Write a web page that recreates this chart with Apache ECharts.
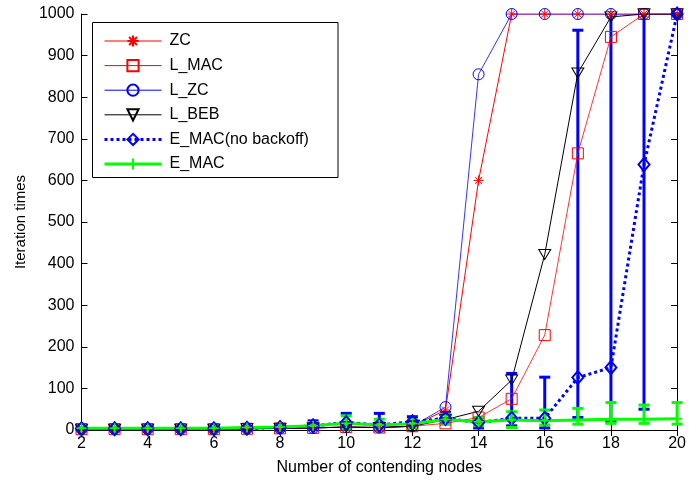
<!DOCTYPE html>
<html>
<head>
<meta charset="utf-8">
<script src="https://cdn.jsdelivr.net/npm/echarts@6/dist/echarts.min.js"></script>
<style>
html,body{margin:0;padding:0;background:#fff;}
#chart{width:689px;height:482px;}
</style>
</head>
<body>
<div id="chart"></div>
<script>
// ---- data ----
var nodes = [2,3,4,5,6,7,8,9,10,11,12,13,14,15,16,17,18,19,20];
var zc      = [2,2,2,2,2,3,4,5,7,6,9,48,600,1000,1000,1000,1000,1000,1000];
var lMac    = [2,2,2,2,2,3,4,5,7,6,9,16,30,75,228,665,945,1000,1000];
var lZc     = [2,2,2,2,2,3,4,5,7,6,9,55,855,1000,1000,1000,1000,1000,1000];
var lBeb    = [2,2,2,2,2,3,4,5,7,6,9,25,45,120,422,858,993,1000,1000];
var eMacNb  = [3,3,3,3,3,4,6,10,18,12,20,28,18,28,28,126,150,638,1000];
var eMacNbLo= [1,1,1,1,1,2,3,2,3,0,8,15,5,10,5,30,20,50,1000];
var eMacNbHi= [5,5,5,5,5,6,9,22,40,40,32,42,30,136,127,961,1050,1050,1000];
var eMac    = [4,4,4,4,4,6,7,10,16,12,15,25,20,24,22,24,26,26,27];
var eMacLo  = [2,2,2,2,2,4,5,4,2,2,6,14,10,6,12,14,16,16,14];
var eMacHi  = [6,6,6,6,6,8,9,18,34,26,25,38,30,44,48,52,66,60,66];
var xTicks = {min:2, max:20, interval:2};
var yTicks = {min:0, max:1000, interval:100};
var seriesNames = ['ZC','L_MAC','L_ZC','L_BEB','E_MAC(no backoff)','E_MAC'];

function pairs(ys){ return nodes.map(function(x,i){ return [x, ys[i]]; }); }
function errData(lo, hi){ return nodes.map(function(x,i){ return [x, lo[i], hi[i]]; }); }

var FONT = '"Liberation Sans", Arial, sans-serif';
var yMaxVal = yTicks.max;

function errRender(color, lw, capW){
  return function(params, api){
    var x = api.value(0), lo = api.value(1), hi = api.value(2);
    var top = Math.min(hi, yMaxVal), bot = Math.max(lo, yTicks.min);
    var pTop = api.coord([x, top]);
    var pBot = api.coord([x, bot]);
    var children = [{
      type:'line', shape:{x1:pTop[0], y1:pTop[1], x2:pBot[0], y2:pBot[1]},
      style:{stroke:color, lineWidth:lw}
    }];
    if (hi <= yMaxVal) children.push({type:'line', shape:{x1:pTop[0]-capW/2, y1:pTop[1], x2:pTop[0]+capW/2, y2:pTop[1]}, style:{stroke:color, lineWidth:lw}});
    if (lo >= yTicks.min) children.push({type:'line', shape:{x1:pBot[0]-capW/2, y1:pBot[1], x2:pBot[0]+capW/2, y2:pBot[1]}, style:{stroke:color, lineWidth:lw}});
    return {type:'group', children:children};
  };
}

var asterisk = 'path://M5,0L5,10M0,5L10,5M1.5,1.5L8.5,8.5M1.5,8.5L8.5,1.5';
var plus = 'path://M5,0L5,10M0,5L10,5';
var downTri = 'path://M0,0L10,0L5,8.66Z';

var legendLine = {
  'ZC':{color:'#ff0000', width:1},
  'L_MAC':{color:'#ff0000', width:1},
  'L_ZC':{color:'#0000ff', width:1},
  'L_BEB':{color:'#000', width:1},
  'E_MAC(no backoff)':{color:'#0000ff', width:3, type:[3,3]},
  'E_MAC':{color:'#00ff00', width:3}
};

var chart = echarts.init(document.getElementById('chart'), null, {renderer:'canvas'});
var axisLineStyle = {color:'#000', width:1};
chart.setOption({
  animation:false,
  backgroundColor:'#fff',
  textStyle:{fontFamily:FONT},
  grid:{left:81.5, right:10, top:14, bottom:52, containLabel:false},
  graphic:[{
    type:'rect', z:50, silent:true,
    shape:{x:92.5, y:22.5, width:245.5, height:155},
    style:{fill:'#fff', stroke:'#000', lineWidth:1}
  }],
  legend:{
    z:60,
    orient:'vertical', left:92, top:23,
    padding:[10,5,5,11],
    itemWidth:57, itemHeight:14, itemGap:8.6,
    data:seriesNames.map(function(n){ return {name:n, lineStyle:legendLine[n]}; }),
    textStyle:{fontFamily:FONT, fontSize:16, color:'#000', padding:[0,0,0,3]}
  },
  xAxis:[{
    type:'value', position:'bottom', min:xTicks.min, max:xTicks.max, interval:xTicks.interval,
    axisLine:{lineStyle:axisLineStyle}, axisTick:{inside:true, length:6, lineStyle:axisLineStyle},
    axisLabel:{fontFamily:FONT, fontSize:16, color:'#000', margin:6, formatter:function(v){return String(v);}},
    splitLine:{show:false},
    name:'Number of contending nodes', nameLocation:'middle', nameGap:30,
    nameTextStyle:{fontFamily:FONT, fontSize:16, color:'#000'}
  },{
    type:'value', position:'top', min:xTicks.min, max:xTicks.max, interval:xTicks.interval,
    axisLine:{lineStyle:axisLineStyle}, axisTick:{inside:true, length:6, lineStyle:axisLineStyle},
    axisLabel:{show:false}, splitLine:{show:false}
  }],
  yAxis:[{
    type:'value', position:'left', min:yTicks.min, max:yTicks.max, interval:yTicks.interval,
    axisLine:{show:true, lineStyle:axisLineStyle}, axisTick:{show:true, inside:true, length:6, lineStyle:axisLineStyle},
    axisLabel:{fontFamily:FONT, fontSize:16, color:'#000', margin:7, formatter:function(v){return String(v);}},
    splitLine:{show:false},
    name:'Iteration times', nameLocation:'middle', nameGap:51, nameRotate:90,
    nameTextStyle:{fontFamily:FONT, fontSize:15, color:'#000'}
  },{
    type:'value', position:'right', min:yTicks.min, max:yTicks.max, interval:yTicks.interval,
    axisLine:{show:true, lineStyle:axisLineStyle}, axisTick:{show:true, inside:true, length:6, lineStyle:axisLineStyle},
    axisLabel:{show:false}, splitLine:{show:false}
  }],
  series:[
    {name:'ZC', type:'line', data:pairs(zc), symbol:asterisk, symbolSize:10,
     lineStyle:{color:'#ff0000', width:1}, itemStyle:{color:'#ff0000', borderColor:'#ff0000', borderWidth:1}},
    {name:'L_MAC', type:'line', data:pairs(lMac), symbol:'rect', symbolSize:11,
     lineStyle:{color:'#ff0000', width:0.8}, itemStyle:{color:'rgba(0,0,0,0)', borderColor:'#ff0000', borderWidth:1}},
    {name:'L_ZC', type:'line', data:pairs(lZc), symbol:'circle', symbolSize:11,
     lineStyle:{color:'#0000ff', width:0.8}, itemStyle:{color:'rgba(0,0,0,0)', borderColor:'#0000ff', borderWidth:1}},
    {name:'L_BEB', type:'line', data:pairs(lBeb), symbol:downTri, symbolSize:[12,10],
     lineStyle:{color:'#000', width:1}, itemStyle:{color:'rgba(0,0,0,0)', borderColor:'#000', borderWidth:1}},
    {name:'errNb', type:'custom', data:errData(eMacNbLo, eMacNbHi), renderItem:errRender('#0000ff',3,11), silent:true},
    {name:'E_MAC(no backoff)', type:'line', data:pairs(eMacNb), symbol:'diamond', symbolSize:[11,13],
     lineStyle:{color:'#0000ff', width:3, type:[3,3]}, itemStyle:{color:'rgba(0,0,0,0)', borderColor:'#0000ff', borderWidth:2}},
    {name:'errE', type:'custom', data:errData(eMacLo, eMacHi), renderItem:errRender('#00ff00',3,11), silent:true},
    {name:'E_MAC', type:'line', data:pairs(eMac), symbol:plus, symbolSize:10,
     lineStyle:{color:'#00ff00', width:3}, itemStyle:{color:'#00ff00', borderColor:'#00ff00', borderWidth:1.5}}
  ]
});
</script>
</body>
</html>
